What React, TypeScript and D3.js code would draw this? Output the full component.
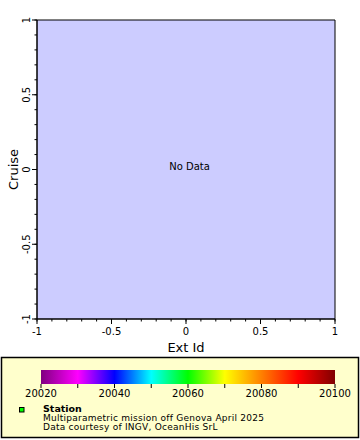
import React from "react";
import * as d3 from "d3";

const xDomain = [-1, 1];
const yDomain = [-1, 1];
const majorTicks = [-1, -0.5, 0, 0.5, 1];
const minorTicks = d3.range(-10, 11).map((d) => d / 10);
const xLabel = "Ext Id";
const yLabel = "Cruise";
const noDataText = "No Data";
const cbDomain = [20020, 20100];
const cbTicks = [20020, 20030, 20040, 20050, 20060, 20070, 20080, 20090, 20100];
const cbLabels = [20020, 20040, 20060, 20080, 20100];
const cbColors = ["#800080", "#ff00ff", "#0000ff", "#00ffff", "#00ff00", "#ffff00", "#ff8000", "#ff0000", "#800000"];
const legendTitle = "Station";
const legendLines = ["Multiparametric mission off Genova April 2025", "Data courtesy of INGV, OceanHis SrL"];

const font = "DejaVu Sans, sans-serif";

export default function App() {
  const left = 37, right = 335, top = 20, bottom = 319;
  const x = d3.scaleLinear().domain(xDomain).range([left, right]);
  const y = d3.scaleLinear().domain(yDomain).range([bottom, top]);
  const cb = d3.scaleLinear().domain(cbDomain).range([41, 335]);
  const fmt = (v: number) => (v === 0 ? "0" : String(v));
  return (
    <svg width={360} height={440} style={{ position: "absolute", left: 0, top: 0 }} fontFamily={font}>
      <defs>
        <linearGradient id="cbg" x1="0" x2="1" y1="0" y2="0">
          {cbColors.map((c, i) => (
            <stop key={i} offset={i / (cbColors.length - 1)} stopColor={c} />
          ))}
        </linearGradient>
      </defs>
      <rect x={0} y={0} width={360} height={440} fill="#fff" />
      <rect x={left} y={top} width={right - left} height={bottom - top} fill="#ccccff" />
      <path d={`M${left},${top}H${right}V${bottom}`} fill="none" stroke="#000" strokeWidth={1} />
      <line x1={left} x2={right} y1={bottom} y2={bottom} stroke="#000" strokeWidth={1.5} />
      <line x1={left} x2={left} y1={top} y2={bottom} stroke="#000" strokeWidth={1.5} />
      {minorTicks.map((t) => (
        <g key={"m" + t}>
          <line x1={x(t)} x2={x(t)} y1={bottom} y2={bottom + 2.5} stroke="#000" />
          <line x1={left} x2={left - 2.5} y1={y(t)} y2={y(t)} stroke="#000" />
        </g>
      ))}
      {majorTicks.map((t) => (
        <g key={"M" + t}>
          <line x1={x(t)} x2={x(t)} y1={bottom} y2={bottom + 5} stroke="#000" />
          <line x1={left} x2={left - 5} y1={y(t)} y2={y(t)} stroke="#000" />
          <text x={x(t)} y={335} fontSize={10} textAnchor="middle">{fmt(t)}</text>
          <text transform={`translate(${30},${y(t)}) rotate(-90)`} fontSize={10} textAnchor="middle">{fmt(t)}</text>
        </g>
      ))}
      <text x={(left + right) / 2} y={352} fontSize={13} textAnchor="middle">{xLabel}</text>
      <text transform={`translate(${18},${(top + bottom) / 2}) rotate(-90)`} fontSize={13} textAnchor="middle">{yLabel}</text>
      <text x={x(0) + 3.5} y={170} fontSize={10} textAnchor="middle">{noDataText}</text>

      <rect x={1.5} y={357.5} width={357} height={80} fill="#ffffcc" stroke="#000" strokeWidth={1.5} />
      <rect x={41} y={370} width={294} height={14} fill="url(#cbg)" />
      {cbTicks.map((t) => (
        <line key={"c" + t} x1={cb(t)} x2={cb(t)} y1={384} y2={388} stroke="#000" />
      ))}
      {cbLabels.map((t) => (
        <text key={"cl" + t} x={cb(t)} y={397} fontSize={10} textAnchor="middle">{t}</text>
      ))}
      <rect x={19.5} y={407.5} width={4.5} height={4.5} fill="#00ff00" stroke="#000" strokeWidth={1} />
      <text x={43} y={412} fontSize={9.5} fontWeight="bold">{legendTitle}</text>
      {legendLines.map((l, i) => (
        <text key={i} x={43} y={421 + i * 9} fontSize={9} letterSpacing={0.25}>{l}</text>
      ))}
    </svg>
  );
}
